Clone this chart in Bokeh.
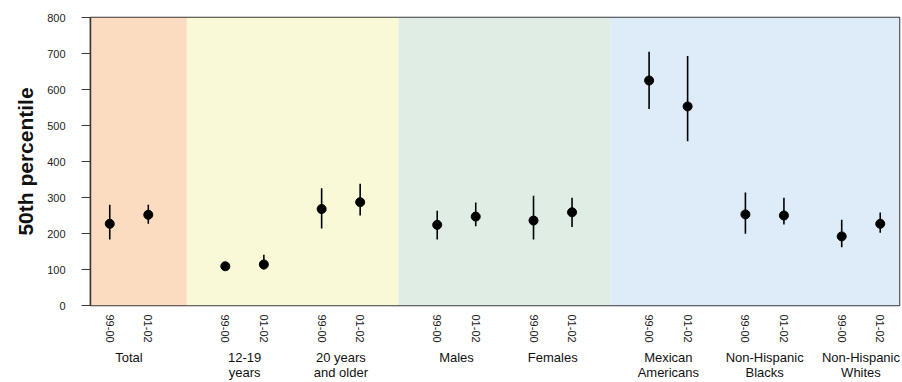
from bokeh.plotting import figure
from bokeh.models import LinearAxis, FixedTicker, Range1d
from bokeh.embed import file_html
from bokeh.resources import INLINE

# ---- data ----
group_line1 = ["Total", "12-19", "20 years", "Males", "Females", "Mexican", "Non-Hispanic", "Non-Hispanic"]
group_line2 = ["", "years", "and older", "", "", "Americans", "Blacks", "Whites"]
periods = ["99-00", "01-02"]
x_pos = [1, 3, 7, 9, 12, 14, 18, 20, 23, 25, 29, 31, 34, 36, 39, 41]
median = [227, 252, 109, 114, 268, 287, 224, 247, 236, 259, 625, 553, 253, 250, 192, 227]
lower = [183, 227, 105, 100, 214, 250, 183, 220, 183, 218, 546, 456, 199, 225, 162, 202]
upper = [280, 280, 113, 141, 326, 338, 263, 286, 305, 299, 705, 693, 314, 299, 238, 258]
y_ticks = [0, 100, 200, 300, 400, 500, 600, 700, 800]
band_left = [0, 5, 16, 27]
band_right = [5, 16, 27, 42]
band_colors = ["#FCDCC0", "#F9F8D7", "#DFEDE5", "#DEEBF8"]

x_min, x_max = band_left[0], band_right[-1]
y_min, y_max = y_ticks[0], y_ticks[-1]

group_centers = [(x_pos[2 * i] + x_pos[2 * i + 1]) / 2 for i in range(len(group_line1))]
period_labels = [periods[i % 2] for i in range(len(x_pos))]

FONT = "Liberation Sans"
DARK = "#3a3a3a"

p = figure(width=902, height=382, x_range=Range1d(x_min, x_max), y_range=Range1d(y_min, y_max),
           output_backend="svg", toolbar_location=None,
           min_border_left=90, min_border_right=3, min_border_top=17, min_border_bottom=76)
p.background_fill_color = "white"
p.border_fill_color = "white"
p.outline_line_color = DARK
p.outline_line_width = 1.5
p.xgrid.grid_line_color = None
p.ygrid.grid_line_color = None

# background bands
p.quad(left=band_left, right=band_right, bottom=y_min, top=y_max,
       fill_color=band_colors, line_color=None)

# error bars and points
p.segment(x0=x_pos, y0=lower, x1=x_pos, y1=upper, line_color="black", line_width=1.6)
p.scatter(x=x_pos, y=median, size=9, color="black")

# y axis
ya = p.yaxis[0]
ya.ticker = FixedTicker(ticks=y_ticks)
ya.minor_tick_line_color = None
ya.major_tick_in = 0
ya.major_tick_out = 9
ya.major_tick_line_color = DARK
ya.axis_line_color = DARK
ya.axis_line_width = 1.5
ya.major_label_standoff = 16
ya.major_label_text_font = FONT
ya.major_label_text_font_size = "11px"
ya.major_label_text_color = "#222222"
ya.axis_label = "50th percentile"
ya.axis_label_text_font = FONT
ya.axis_label_text_font_size = "21px"
ya.axis_label_text_font_style = "bold"
ya.axis_label_text_color = "#111111"
ya.axis_label_standoff = 7

# x axis: period labels
xa = p.xaxis[0]
xa.ticker = FixedTicker(ticks=x_pos)
xa.major_label_overrides = {x: lab for x, lab in zip(x_pos, period_labels)}
xa.major_label_orientation = "vertical"
xa.major_tick_line_color = None
xa.minor_tick_line_color = None
xa.axis_line_color = None
xa.major_label_standoff = 3
xa.major_label_text_font = FONT
xa.major_label_text_font_size = "11px"
xa.major_label_text_color = "#222222"

def group_axis(labels, standoff):
    ax = LinearAxis(ticker=FixedTicker(ticks=group_centers),
                    major_label_overrides={c: lab for c, lab in zip(group_centers, labels)})
    ax.major_tick_line_color = None
    ax.minor_tick_line_color = None
    ax.axis_line_color = None
    ax.major_tick_out = 0
    ax.major_tick_in = 0
    ax.major_label_standoff = standoff
    ax.major_label_text_font = FONT
    ax.major_label_text_font_size = "13px"
    ax.major_label_text_color = "#111111"
    return ax

p.add_layout(group_axis(group_line1, 4), "below")
p.add_layout(group_axis(group_line2, -3), "below")

open("out.html", "w").write(file_html(p, INLINE))
